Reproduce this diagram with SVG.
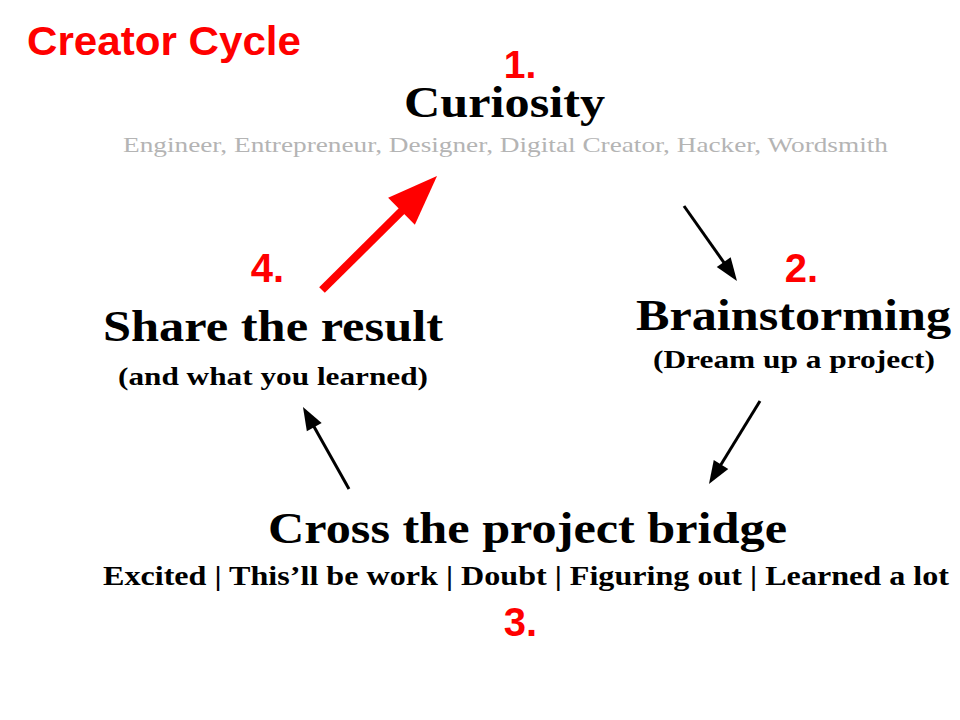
<svg xmlns="http://www.w3.org/2000/svg" width="960" height="720" viewBox="0 0 960 720">
<style>
.num{font-family:"Liberation Sans",Arial,sans-serif;font-weight:bold;fill:#ff0000;text-anchor:middle}
.ttl{font-family:"Liberation Serif","Times New Roman",serif;font-weight:bold;fill:#000;text-anchor:middle}
.sub{font-family:"Liberation Serif","Times New Roman",serif;fill:#000;text-anchor:middle;font-weight:bold}
.gray{font-family:"Liberation Serif","Times New Roman",serif;fill:#b4b4b4;text-anchor:middle}
.blk{stroke:#000;stroke-width:3;fill:none}
</style>
<defs>
<marker id="ah" markerUnits="userSpaceOnUse" markerWidth="23" markerHeight="17" refX="5" refY="8.5" orient="auto" overflow="visible">
<path d="M0,0 L23,8.5 L0,17 z" fill="#000"/>
</marker>
<marker id="rh" markerUnits="userSpaceOnUse" markerWidth="50" markerHeight="38" refX="10" refY="19" orient="auto" overflow="visible">
<path d="M0,0 L50,19 L0,38 z" fill="#ff0000"/>
</marker>
</defs>
<rect width="960" height="720" fill="#fff"/>
<text id="title" x="27" y="55" font-family="Liberation Sans,Arial,sans-serif" font-weight="bold" font-size="40" fill="#ff0000" textLength="274" lengthAdjust="spacingAndGlyphs">Creator Cycle</text>
<g id="node-curiosity">
<text class="num" x="520" y="78" font-size="39">1.</text>
<text class="ttl" x="504.5" y="117" font-size="44" textLength="201" lengthAdjust="spacingAndGlyphs">Curiosity</text>
<text class="gray" x="505.5" y="152" font-size="21" textLength="765" lengthAdjust="spacingAndGlyphs">Engineer, Entrepreneur, Designer, Digital Creator, Hacker, Wordsmith</text>
</g>
<g id="node-brainstorming">
<text class="num" x="801.5" y="282" font-size="40">2.</text>
<text class="ttl" x="793.5" y="330" font-size="45" textLength="315" lengthAdjust="spacingAndGlyphs">Brainstorming</text>
<text class="sub" x="794" y="368" font-size="25" textLength="282" lengthAdjust="spacingAndGlyphs">(Dream up a project)</text>
</g>
<g id="node-bridge">
<text class="ttl" x="527.5" y="543" font-size="45" textLength="519" lengthAdjust="spacingAndGlyphs">Cross the project bridge</text>
<text class="sub" x="526" y="585" font-size="27" textLength="846" lengthAdjust="spacingAndGlyphs">Excited | This’ll be work | Doubt | Figuring out | Learned a lot</text>
<text class="num" x="520.5" y="636" font-size="40">3.</text>
</g>
<g id="node-share">
<text class="num" x="267.5" y="282" font-size="40">4.</text>
<text class="ttl" x="273" y="341" font-size="45" textLength="340" lengthAdjust="spacingAndGlyphs">Share the result</text>
<text class="sub" x="273" y="385" font-size="25" textLength="310" lengthAdjust="spacingAndGlyphs">(and what you learned)</text>
</g>
<g id="connectors">
<line class="blk" x1="684" y1="206" x2="726.6" y2="266.3" marker-end="url(#ah)"/>
<line class="blk" x1="760" y1="401" x2="718.4" y2="468.7" marker-end="url(#ah)"/>
<line class="blk" x1="349" y1="489" x2="311.8" y2="422.7" marker-end="url(#ah)"/>
<line x1="322" y1="290" x2="408.6" y2="204.2" stroke="#ff0000" stroke-width="8" marker-end="url(#rh)"/>
</g>
</svg>
